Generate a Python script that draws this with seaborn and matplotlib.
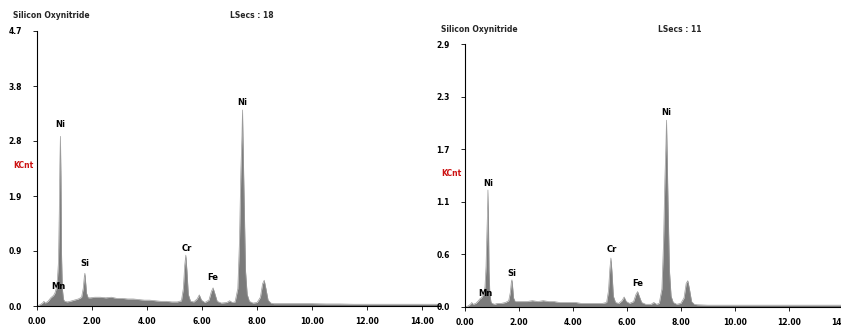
import matplotlib
matplotlib.use('Agg')
import matplotlib.pyplot as plt
import numpy as np
import pandas as pd
import seaborn as sns

# energy grid (keV) shared by both spectra
energy = [
    0.00, 0.10, 0.20, 0.25, 0.30, 0.40, 0.50, 0.55, 0.60, 0.65, 0.70, 0.74,
    0.78, 0.81, 0.83, 0.85, 0.87, 0.89, 0.92, 0.96, 1.00, 1.10, 1.20, 1.35,
    1.50, 1.62, 1.68, 1.72, 1.74, 1.76, 1.80, 1.86, 1.95, 2.10, 2.30, 2.50,
    2.70, 2.90, 3.10, 3.30, 3.50, 3.70, 3.90, 4.10, 4.30, 4.50, 4.70, 4.90,
    5.10, 5.25, 5.32, 5.37, 5.41, 5.45, 5.50, 5.58, 5.70, 5.82, 5.90, 5.98,
    6.10, 6.25, 6.34, 6.40, 6.46, 6.55, 6.70, 6.90, 7.00, 7.10, 7.20, 7.30,
    7.36, 7.41, 7.45, 7.47, 7.49, 7.53, 7.58, 7.64, 7.72, 7.85, 8.00, 8.12,
    8.20, 8.26, 8.32, 8.40, 8.50, 8.60, 9.00, 9.50, 10.00, 10.50, 11.00,
    11.50, 12.00, 12.50, 13.00, 13.50, 14.00, 14.70,
]

# counts (KCnt), first spectrum (LSecs 18)
counts_18 = [
    0.00, 0.02, 0.05, 0.08, 0.05, 0.08, 0.14, 0.16, 0.18, 0.22, 0.30, 0.45,
    0.75, 1.60, 2.40, 2.90, 2.20, 0.90, 0.30, 0.12, 0.08, 0.07, 0.08, 0.10,
    0.12, 0.15, 0.30, 0.50, 0.56, 0.45, 0.22, 0.14, 0.14, 0.15, 0.15, 0.14,
    0.15, 0.13, 0.13, 0.12, 0.12, 0.11, 0.10, 0.10, 0.09, 0.08, 0.08, 0.07,
    0.07, 0.09, 0.30, 0.70, 0.87, 0.60, 0.20, 0.08, 0.07, 0.12, 0.19, 0.10,
    0.06, 0.10, 0.25, 0.31, 0.22, 0.08, 0.05, 0.06, 0.09, 0.06, 0.07, 0.30,
    1.10, 2.30, 2.90, 3.35, 2.80, 1.80, 0.60, 0.20, 0.08, 0.05, 0.06, 0.15,
    0.38, 0.44, 0.30, 0.10, 0.05, 0.04, 0.04, 0.04, 0.04, 0.035, 0.035,
    0.03, 0.03, 0.03, 0.03, 0.03, 0.03, 0.03,
]

# counts (KCnt), second spectrum (LSecs 11)
counts_11 = [
    0.00, 0.01, 0.03, 0.05, 0.03, 0.04, 0.07, 0.09, 0.10, 0.12, 0.16, 0.22,
    0.45, 0.80, 1.00, 1.29, 0.95, 0.40, 0.15, 0.06, 0.04, 0.03, 0.04, 0.04,
    0.05, 0.07, 0.16, 0.28, 0.30, 0.24, 0.10, 0.06, 0.06, 0.06, 0.06, 0.07,
    0.06, 0.07, 0.06, 0.06, 0.05, 0.05, 0.05, 0.05, 0.04, 0.04, 0.04, 0.04,
    0.04, 0.05, 0.18, 0.42, 0.54, 0.38, 0.12, 0.05, 0.04, 0.07, 0.11, 0.06,
    0.04, 0.06, 0.14, 0.17, 0.12, 0.05, 0.03, 0.03, 0.05, 0.03, 0.04, 0.20,
    0.70, 1.40, 1.80, 2.06, 1.75, 1.10, 0.40, 0.12, 0.05, 0.03, 0.04, 0.10,
    0.26, 0.29, 0.20, 0.06, 0.03, 0.025, 0.02, 0.02, 0.02, 0.02, 0.02,
    0.02, 0.02, 0.02, 0.02, 0.02, 0.02, 0.02,
]

# peak labels: element, energy, label height
labels_18 = [('Ni', 0.85, 3.11), ('Mn', 0.76, 0.33), ('Si', 1.74, 0.72),
             ('Cr', 5.45, 0.99), ('Fe', 6.40, 0.48), ('Ni', 7.47, 3.47)]
labels_11 = [('Ni', 0.85, 1.36), ('Mn', 0.76, 0.15), ('Si', 1.74, 0.37),
             ('Cr', 5.45, 0.63), ('Fe', 6.40, 0.26), ('Ni', 7.47, 2.14)]

ytick_vals_18 = ['0.0', '0.9', '1.9', '2.8', '3.8', '4.7']
ytick_vals_11 = ['0.0', '0.6', '1.1', '1.7', '2.3', '2.9']
xtick_vals = [0, 2, 4, 6, 8, 10, 12, 14]

sns.set_style('white')
plt.rcParams['font.family'] = ['DejaVu Sans']

W, H = 841, 329
fig = plt.figure(figsize=(W / 100, H / 100), dpi=100)

FILL = '#7b7b7b'


def draw_panel(rect, counts, ymax, yticks, labels, lsecs, title_y, kcnt_y, xmax):
    x0, y0, x1, y1 = rect
    ax = fig.add_axes([x0 / W, 1 - y1 / H, (x1 - x0) / W, (y1 - y0) / H])
    df = pd.DataFrame({'energy': energy, 'counts': counts})
    ax.fill_between(df['energy'], 0, df['counts'], color=FILL, linewidth=0)
    sns.lineplot(data=df, x='energy', y='counts', ax=ax, color='#9a9a9a',
                 linewidth=0.5)
    ax.set_xlim(0, xmax)
    ax.set_ylim(0, ymax)
    ax.set_xticks(xtick_vals)
    ax.set_xticklabels([f'{v:.2f}' for v in xtick_vals], fontsize=5.5,
                       fontweight='bold')
    ax.set_yticks(np.linspace(0, ymax, 6))
    ax.set_yticklabels(yticks, fontsize=5.5, fontweight='bold')
    ax.tick_params(axis='both', direction='out', length=3, width=0.6,
                   pad=5, colors='black', bottom=True, left=True)
    ax.tick_params(axis='y', pad=8)
    for s in ['top', 'right']:
        ax.spines[s].set_visible(False)
    for s in ['left', 'bottom']:
        ax.spines[s].set_color('black')
        ax.spines[s].set_linewidth(0.8)
    ax.set_xlabel('')
    ax.set_ylabel('')
    ax.grid(False)
    for name, e, h in labels:
        ax.text(e, h, name, ha='center', va='center', fontsize=6,
                fontweight='bold', color='black')
    # header texts
    fig.text((x0 - 24) / W, 1 - title_y / H, 'Silicon Oxynitride',
             fontsize=5.5, fontweight='bold', va='center', ha='left')
    fig.text((x0 + 193) / W, 1 - title_y / H, f'LSecs : {lsecs}',
             fontsize=5.5, fontweight='bold', va='center', ha='left')
    fig.text((x0 - 24) / W, 1 - kcnt_y / H, 'KCnt', fontsize=5.5,
             fontweight='bold', color='#cc1111', va='center', ha='left')
    return ax


draw_panel((37, 31, 440, 306), counts_18, 4.7, ytick_vals_18, labels_18,
           18, 16, 166, 14.65)
draw_panel((465, 44, 848, 307), counts_11, 2.9, ytick_vals_11, labels_11,
           11, 30, 173, 14.2)

fig.savefig('out.png', dpi=100, facecolor='white')
